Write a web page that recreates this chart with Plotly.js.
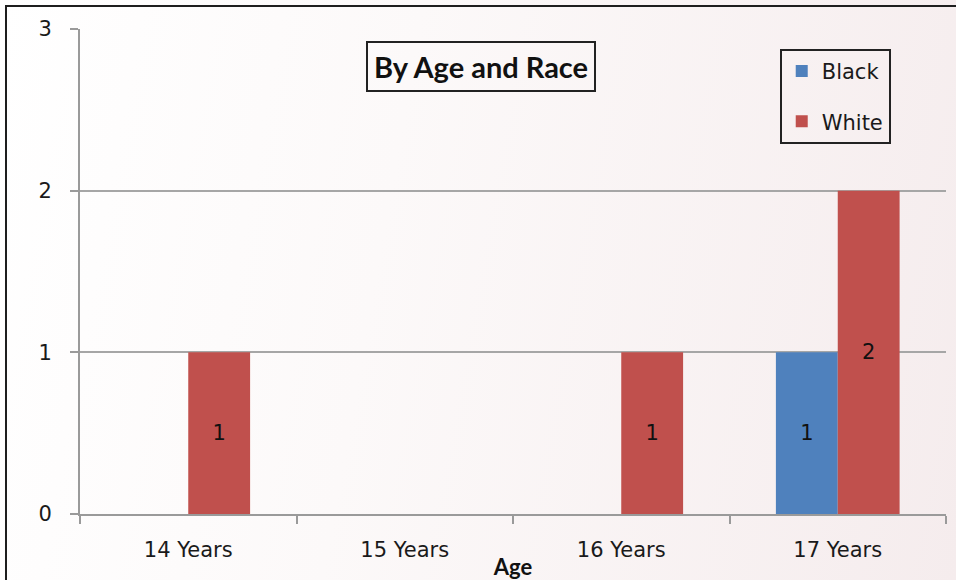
<!DOCTYPE html>
<html>
<head>
<meta charset="utf-8">
<script src="https://cdn.plot.ly/plotly-3.0.1.min.js"></script>
<style>
  html, body { margin: 0; padding: 0; width: 956px; height: 580px; overflow: hidden; }
  #frame {
    position: absolute; left: 0; top: 0; width: 956px; height: 580px;
    background: linear-gradient(100deg, #ffffff 0%, #fcf9f9 40%, #f5eced 100%);
  }
  #edge {
    position: absolute; left: 5px; top: 5px; width: 1000px; height: 1000px;
    border: 2px solid #1e1e1e; box-sizing: border-box; pointer-events: none;
  }
  #chart { position: absolute; left: 0; top: 0; width: 956px; height: 580px; }
</style>
</head>
<body>
<div id="frame"></div>
<div id="chart"></div>
<div id="edge"></div>
<script>
// Counts by age group and race
const ageGroups = ['14 Years', '15 Years', '16 Years', '17 Years'];
const blackCounts = [null, null, null, 1];
const whiteCounts = [1, null, 1, 2];
const yTicks = [0, 1, 2, 3];

const tickFont = { family: 'Tahoma, "DejaVu Sans", sans-serif', size: 21, color: '#1a1a1a' };
const boldFamily = 'Lato, "Open Sans", sans-serif';

const traces = [
  {
    type: 'bar', name: 'Black', x: ageGroups, y: blackCounts,
    marker: { color: '#4F81BD', line: { width: 0 } },
    text: blackCounts.map(v => v == null ? '' : String(v)),
    textposition: 'inside', insidetextanchor: 'middle', textangle: 0,
    textfont: { family: tickFont.family, size: 21, color: '#111' },
    legendgroup: 'b', hoverinfo: 'x+y+name'
  },
  {
    type: 'bar', name: 'White', x: ageGroups, y: whiteCounts,
    marker: { color: '#C0504D', line: { width: 0 } },
    text: whiteCounts.map(v => v == null ? '' : String(v)),
    textposition: 'inside', insidetextanchor: 'middle', textangle: 0,
    textfont: { family: tickFont.family, size: 21, color: '#111' },
    legendgroup: 'w', hoverinfo: 'x+y+name'
  }
];

const layout = {
  width: 956, height: 580,
  paper_bgcolor: 'rgba(0,0,0,0)', plot_bgcolor: 'rgba(0,0,0,0)',
  margin: { l: 80, r: 10, t: 29, b: 66, pad: 0 },
  barmode: 'group', bargap: 0.4286, bargroupgap: 0,
  font: tickFont,
  xaxis: {
    type: 'category', tickson: 'boundaries', ticks: 'outside', ticklen: 8,
    tickcolor: '#9a9a9a', tickwidth: 2,
    showline: true, linecolor: '#9a9a9a', linewidth: 2,
    showgrid: false, zeroline: false, tickfont: tickFont,
    ticklabelstandoff: 16,
    title: { text: 'Age', font: { family: boldFamily, size: 22, color: '#111', weight: 'bold' }, standoff: 0 }
  },
  yaxis: {
    range: [0, 3], tickvals: yTicks, ticks: 'outside', ticklen: 8,
    tickcolor: '#9a9a9a', tickwidth: 2,
    showline: true, linecolor: '#9a9a9a', linewidth: 2,
    showgrid: true, gridcolor: '#a6a6a6', gridwidth: 2, zeroline: false,
    tickfont: tickFont, ticklabelstandoff: 14
  },
  showlegend: true,
  legend: {
    x: 0.808, y: 0.959, xanchor: 'left', yanchor: 'top',
    bordercolor: '#222', borderwidth: 2, bgcolor: 'rgba(0,0,0,0)',
    traceorder: 'grouped', tracegroupgap: 20,
    font: tickFont, itemwidth: 30
  },
  annotations: [{
    text: '<b>By Age and Race</b>', xref: 'paper', yref: 'paper',
    x: 0.463, y: 0.922, xanchor: 'center', yanchor: 'middle', showarrow: false,
    font: { family: boldFamily, size: 29, color: '#111' },
    bordercolor: '#222', borderwidth: 2, borderpad: 6, bgcolor: 'rgba(255,255,255,0)'
  }]
};

Plotly.newPlot('chart', traces, layout, { displayModeBar: false, staticPlot: true });
</script>
</body>
</html>
